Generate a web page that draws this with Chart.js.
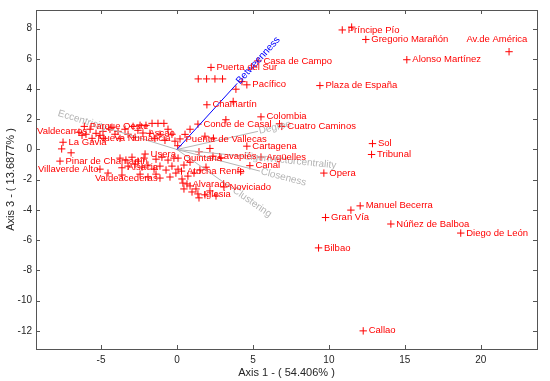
<!DOCTYPE html>
<html>
<head>
<meta charset="utf-8">
<script src="https://cdn.jsdelivr.net/npm/chart.js@4.4.1/dist/chart.umd.min.js"></script>
<style>
  html, body { margin: 0; padding: 0; background: #ffffff; }
  #wrap { width: 550px; height: 381px; }
</style>
</head>
<body>
<div id="wrap"><canvas id="biplotChart" width="550" height="381"></canvas></div>
<script>

// Labelled stations (axis 1, axis 3 scores)

const stationNames = [
    "Príncipe Pío", "Gregorio Marañón", "Av.de América", "Alonso Martínez",
    "Casa de Campo", "Puerta del Sur", "Pacífico", "Plaza de España",
    "Chamartín", "Colombia", "Conde de Casal", "Cuatro Caminos",
    "Puente de Vallecas", "Cartagena", "Sol", "Tribunal",
    "Lavapiés", "Argüelles", "Quintana", "Canal", "Opera",
    "Atocha Renfe", "Alvarado", "Noviciado", "Iglesia",
    "Manuel Becerra", "Gran Vía", "Núñez de Balboa", "Diego de León",
    "Bilbao", "Callao",
    "Valdecarros", "Parque Oeste", "Ascao", "Nueva Numancia", "La Gavia",
    "Usera", "Pinar de Chamartín", "Villaverde Alto", "Alsacia", "Valdeacederas"
];

const stationX = [
    10.88, 12.43, 21.86, 15.13,
    5.33, 2.24, 4.60, 9.41,
    1.97, 5.53, 1.38, 6.90,
    0.20, 4.60, 12.87, 12.81,
    2.37, 5.53, 0.07, 4.80, 9.67,
    0.30, 0.66, 3.09, 1.38,
    12.06, 9.78, 14.08, 18.68,
    9.32, 12.26,
    -6.25, -6.10, -2.24, -5.59, -7.50,
    -2.10, -7.70, -5.07, -3.62, -1.12
];

const stationY = [
    7.91, 7.28, 6.47, 5.94,
    5.86, 5.43, 4.28, 4.23,
    2.96, 2.16, 1.68, 1.53,
    0.70, 0.22, 0.39, -0.33,
    -0.44, -0.50, -0.57, -1.07, -1.56,
    -1.43, -2.28, -2.48, -2.94,
    -3.73, -4.50, -4.93, -5.53,
    -6.51, -12.00,
    0.94, 1.53, 1.09, 0.74, 0.48,
    -0.30, -0.77, -1.30, -1.21, -1.89
];

// Unlabelled stations

const otherX = [
    11.50, 11.45, 1.40, 1.95, 2.50, 3.00, 4.28, 3.88, 3.70, 3.22, 2.17, 4.19, 6.75,
    -6.45, -5.99, -5.72, -5.33, -4.87, -4.41, -3.88, -3.42, -2.89, -2.43, -2.04,
    -1.64, -1.25, -0.86, -0.59, -0.33, -1.12, -1.78, -3.22, -4.08, -5.07, -4.80,
    -3.75, -2.76, -1.45, -0.79, -0.13, -4.28, -2.57, -7.59, -6.97,
    -3.75, -3.36, -2.96, -2.57, -2.17, -1.38, -0.99, -0.59, -0.20,
    -3.22, -2.76, -2.30, -1.91, -1.51, -1.12, -0.72, -0.33, 0.07, 0.46, 0.86,
    -2.43, -1.91, -1.38, -0.46, -0.07, 0.33, 0.72, 1.12, 1.51, 1.91,
    0.39, 0.46, 0.86, 0.99, 1.25, 1.45, 2.17, 2.57, 1.84,
    -4.54, -3.62, 0.53, 0.86, 1.84, 2.40, 1.45, 2.90, 0.05
];

const otherY = [
    8.10, -4.01, 4.67, 4.67, 4.67, 4.67, 4.49, 3.99, 3.18, 1.97, 0.07, -1.47, 1.70,
    1.14, 1.01, 1.34, 1.07, 1.20, 1.34, 1.20, 1.34, 1.53, 1.60, 1.60,
    1.73, 1.73, 1.73, 1.34, 1.01, 1.01, 1.07, 1.01, 1.01, 0.94, 0.74,
    0.74, 0.81, 0.74, 0.61, 0.55, 1.47, 1.27, 0.04, -0.22,
    -0.57, -0.70, -0.51, -0.77, -0.57, -0.64, -0.51, -0.70, -0.57,
    -1.10, -0.97, -1.16, -1.03, -1.30, -1.10, -1.36, -1.10, -1.30, -1.03, -0.84,
    -1.63, -1.82, -1.63, -1.82, -1.56, -1.95, -1.76, -1.56, -1.36, -1.17,
    -2.22, -2.61, -2.41, -2.81, -2.61, -3.20, -2.74, -3.07, -3.00,
    -1.56, -1.69, 1.00, 1.34, 0.88, 0.75, -0.15, -0.55, 0.25
];

// Variable loadings (vectors)

const varNames = ["Betweenness", "Eccentricity", "Degree", "Eigenvectorcentrality", "Closeness", "Clustering"];
const varX = [3.97, -4.54, 5.33, 4.34, 5.46, 3.68];
const varY = [4.38, 1.40, 1.20, -0.44, -1.43, -2.60];


// label nudges (pixels) for text that sits away from its marker
const labelNudge = {
    "Av.de América": [-42.6, -12.3],
    "Valdecarros": [-45, -4],
    "Villaverde Alto": [-62, 0],
    "Valdeacederas": [-65, 0]
};

const markRed = "#ff0000";
const varColors = ["#0000ff", "#b4b4b4", "#b4b4b4", "#b4b4b4", "#b4b4b4", "#b4b4b4"];

const labelFont = "9.5px Arial, 'Liberation Sans', sans-serif";
const varFont = "10px Arial, 'Liberation Sans', sans-serif";


const vectorSets = varNames.map((name, i) => ({
    label: name,
    data: [{x: 0, y: 0}, {x: varX[i], y: varY[i]}],
    showLine: true,
    borderColor: varColors[i],
    backgroundColor: varColors[i],
    borderWidth: 1,
    pointRadius: 0
}));

const stationSet = {
    label: "stations",
    data: stationX.map((x, i) => ({x: x, y: stationY[i]})),
    pointStyle: "cross",
    pointRadius: 3.7,
    borderColor: markRed,
    backgroundColor: markRed,
    pointBorderColor: markRed,
    borderWidth: 1,
    showLine: false
};

const otherSet = {
    label: "others",
    data: otherX.map((x, i) => ({x: x, y: otherY[i]})),
    pointStyle: "cross",
    pointRadius: 3.7,
    borderColor: markRed,
    backgroundColor: markRed,
    pointBorderColor: markRed,
    borderWidth: 1,
    showLine: false
};


// draws frame, inward ticks, variable labels and station names
const biplotExtras = {
    id: "biplotExtras",
    beforeDatasetsDraw(chart) {
        const {ctx, chartArea: a, scales} = chart;
        ctx.save();
        ctx.strokeStyle = "#555555";
        ctx.lineWidth = 1;
        ctx.strokeRect(a.left + 0.5, a.top + 0.5, a.right - a.left, a.bottom - a.top);
        ctx.beginPath();
        scales.x.ticks.forEach(t => {
            const px = Math.round(scales.x.getPixelForValue(t.value)) + 0.5;
            ctx.moveTo(px, a.bottom); ctx.lineTo(px, a.bottom - 4);
            ctx.moveTo(px, a.top); ctx.lineTo(px, a.top + 4);
        });
        scales.y.ticks.forEach(t => {
            const py = Math.round(scales.y.getPixelForValue(t.value)) + 0.5;
            ctx.moveTo(a.left, py); ctx.lineTo(a.left + 4, py);
            ctx.moveTo(a.right, py); ctx.lineTo(a.right - 4, py);
        });
        ctx.stroke();
        ctx.restore();
    },
    afterDatasetsDraw(chart) {
        const {ctx, scales} = chart;
        ctx.save();

        // variable names along their vectors
        ctx.font = varFont;
        ctx.textBaseline = "middle";
        varNames.forEach((name, i) => {
            const x0 = scales.x.getPixelForValue(0), y0 = scales.y.getPixelForValue(0);
            const x1 = scales.x.getPixelForValue(varX[i]), y1 = scales.y.getPixelForValue(varY[i]);
            let ang = Math.atan2(y1 - y0, x1 - x0);
            ctx.save();
            ctx.translate(x1, y1);
            ctx.fillStyle = varColors[i];
            if (varX[i] < 0) {
                ctx.rotate(ang + Math.PI);
                ctx.textAlign = "right";
                ctx.fillText(name, -1, 0);
            } else {
                ctx.rotate(ang);
                ctx.textAlign = "left";
                ctx.fillText(name, 1, 0);
            }
            ctx.restore();
        });

        // station names
        const meta = chart.getDatasetMeta(varNames.length);
        ctx.font = labelFont;
        ctx.fillStyle = markRed;
        ctx.textAlign = "left";
        ctx.textBaseline = "middle";
        meta.data.forEach((pt, i) => {
            const name = stationNames[i];
            const nudge = labelNudge[name] || [5.5, 0];
            ctx.fillText(name, pt.x + nudge[0], pt.y + nudge[1]);
        });
        ctx.restore();
    }
};


const biplotCanvas = document.getElementById("biplotChart");

new Chart(biplotCanvas, {

    type: "scatter",

    data: {
        datasets: [...vectorSets, stationSet, otherSet]
    },

    options: {

        responsive: false,
        animation: false,
        events: [],

        layout: {
            padding: {left: 0, right: 13, top: 8, bottom: 0}
        },

        plugins: {
            legend: {display: false},
            tooltip: {enabled: false}
        },

        scales: {

            x: {
                type: "linear",
                min: -9.28,
                max: 23.7,
                afterFit(scale) { scale.height = 32; },
                grid: {display: false, drawTicks: false},
                border: {display: false},
                ticks: {
                    stepSize: 5,
                    includeBounds: false,
                    color: "#262626",
                    padding: 5,
                    font: {size: 10, family: "Arial, 'Liberation Sans', sans-serif"}
                },
                title: {
                    display: true,
                    text: "Axis 1 - ( 54.406% )",
                    color: "#262626",
                    padding: {top: 0, bottom: 1},
                    font: {size: 11, family: "Arial, 'Liberation Sans', sans-serif"}
                }
            },

            y: {
                type: "linear",
                min: -13.2,
                max: 9.23,
                afterFit(scale) { scale.width = 36; },
                grid: {display: false, drawTicks: false},
                border: {display: false},
                ticks: {
                    stepSize: 2,
                    includeBounds: false,
                    color: "#262626",
                    padding: 4,
                    font: {size: 10, family: "Arial, 'Liberation Sans', sans-serif"}
                },
                title: {
                    display: true,
                    text: "Axis 3 - ( 13.6877% )",
                    color: "#262626",
                    padding: {top: 4, bottom: 0},
                    font: {size: 11, family: "Arial, 'Liberation Sans', sans-serif"}
                }
            }
        }
    },

    plugins: [biplotExtras]
});

</script>
</body>
</html>
